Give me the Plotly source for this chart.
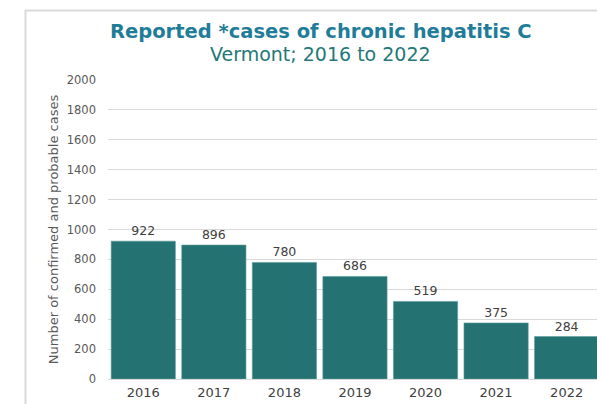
import plotly.graph_objects as go

years = ["2016", "2017", "2018", "2019", "2020", "2021", "2022"]
cases = [922, 896, 780, 686, 519, 375, 284]
y_ticks = [0, 200, 400, 600, 800, 1000, 1200, 1400, 1600, 1800, 2000]

W, H = 597, 404
ML, MR, MT, MB = 108, 0, 80, 25
PW = W - ML - MR
PH = H - MT - MB

def px_x(px):
    return (px - ML) / PW

def px_y(py):
    return (H - MB - py) / PH

fig = go.Figure()
fig.add_trace(go.Bar(
    x=list(range(len(years))), y=cases,
    marker=dict(color="#247272", line=dict(color="#5a9a9a", width=0.6)),
    text=[str(v) for v in cases], textposition="outside",
    textfont=dict(family="DejaVu Sans", size=12.5, color="#404040"),
    cliponaxis=True,
))

fig.update_layout(
    width=W, height=H,
    margin=dict(l=ML, r=MR, t=MT, b=MB),
    paper_bgcolor="white", plot_bgcolor="white",
    bargap=0.09, showlegend=False,
    font=dict(family="DejaVu Sans"),
    xaxis=dict(
        tickmode="array", tickvals=list(range(len(years))), ticktext=years,
        range=[-0.5, 6.43], showgrid=False, showline=False, ticks="",
        ticklabelstandoff=4,
        tickfont=dict(family="DejaVu Sans", size=13, color="#404040"),
    ),
    yaxis=dict(
        range=[0, 2000], tickvals=y_ticks, showgrid=True, gridcolor="#d9d9d9", gridwidth=1,
        zeroline=True, zerolinecolor="#d9d9d9", zerolinewidth=1,
        ticks="", ticklabelstandoff=11,
        tickfont=dict(family="DejaVu Sans", size=11.5, color="#595959"),
        title=dict(text="Number of confirmed and probable cases", standoff=5,
                   font=dict(family="DejaVu Sans", size=13, color="#595959")),
    ),
    shapes=[
        dict(type="line", xref="paper", yref="paper", x0=px_x(25.5), x1=px_x(25.5),
             y0=px_y(10), y1=px_y(404), line=dict(color="#d9d9d9", width=2)),
        dict(type="line", xref="paper", yref="paper", x0=px_x(25), x1=px_x(600),
             y0=px_y(10.5), y1=px_y(10.5), line=dict(color="#d9d9d9", width=2)),
    ],
    annotations=[
        dict(text="<b>Reported *cases of chronic hepatitis C</b>", xref="paper", yref="paper",
             x=px_x(321), y=px_y(31), xanchor="center", yanchor="middle", showarrow=False,
             font=dict(family="DejaVu Sans", size=19.5, color="#1f7d99")),
        dict(text="Vermont; 2016 to 2022", xref="paper", yref="paper",
             x=px_x(320), y=px_y(54), xanchor="center", yanchor="middle", showarrow=False,
             font=dict(family="DejaVu Sans", size=19, color="#237878")),
    ],
)

fig.write_html("out.html")
